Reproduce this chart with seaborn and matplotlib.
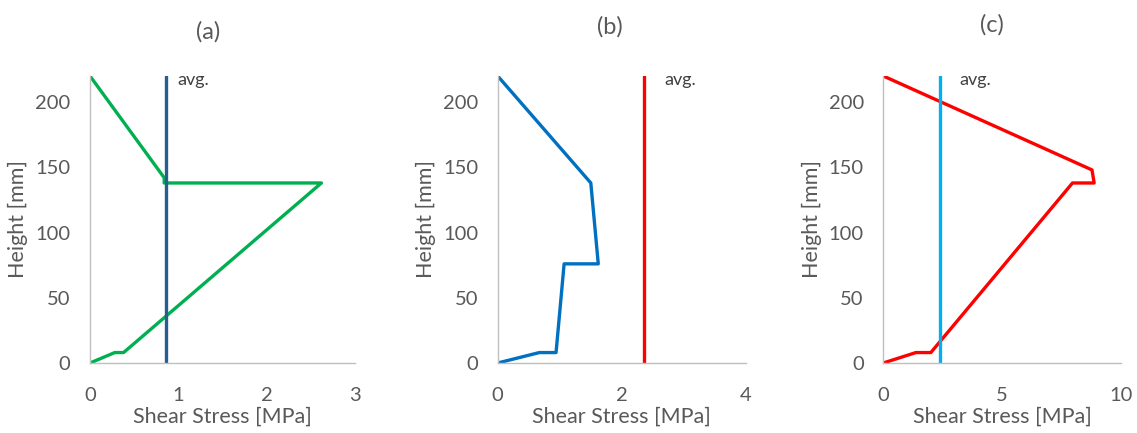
import matplotlib
matplotlib.use("Agg")
import matplotlib.pyplot as plt
import seaborn as sns

# Shear stress profiles over the section height
heights_a = [220, 142, 138, 138, 8, 8, 0]
stress_a = [0.0, 0.84, 0.84, 2.62, 0.38, 0.28, 0.0]
avg_a = 0.86

heights_b = [220, 138, 76, 76, 8, 8, 0]
stress_b = [0.0, 1.50, 1.62, 1.07, 0.94, 0.67, 0.0]
avg_b = 2.35

heights_c = [220, 148, 138, 138, 8, 8, 0]
stress_c = [0.0, 8.78, 8.87, 7.96, 2.0, 1.37, 0.0]
avg_c = 2.38

avg_span = [0, 220]

panel_titles = ["(a)", "(b)", "(c)"]
x_ticks = [[0, 1, 2, 3], [0, 2, 4], [0, 5, 10]]
y_ticks = [0, 50, 100, 150, 200]

sns.set_theme(style="white")
plt.rcParams["font.family"] = ["Lato", "DejaVu Sans"]

TEXT = "#595959"
AXIS = "#BFBFBF"

W, H = 1137, 433
fig = plt.figure(figsize=(W / 100, H / 100), dpi=100)


def px_axes(left, right, top, bottom):
    return fig.add_axes([left / W, 1 - bottom / H, (right - left) / W, (bottom - top) / H])


boxes = [(90, 355, 76, 363), (497.7, 746, 76, 363), (883.3, 1121, 76, 363)]
profiles = [
    (stress_a, heights_a, "#00B050", avg_a, "#255E91", 3),
    (stress_b, heights_b, "#0070C0", avg_b, "#FF0000", 4),
    (stress_c, heights_c, "#FF0000", avg_c, "#00B0F0", 10),
]
title_pos = [(208, 32), (610, 27), (992, 25)]
avg_text_x = [0.985, 2.69, 3.2]

for i, (box, prof) in enumerate(zip(boxes, profiles)):
    xs, ys, col, avg, avg_col, xmax = prof
    ax = px_axes(*box)
    sns.lineplot(x=xs, y=ys, sort=False, estimator=None, color=col,
                 linewidth=2.4, ax=ax)
    sns.lineplot(x=[avg, avg], y=avg_span, sort=False, estimator=None,
                 color=avg_col, linewidth=2.4, ax=ax)
    ax.set_xlim(0, xmax)
    ax.set_ylim(0, 220)
    ax.set_xticks(x_ticks[i])
    ax.set_yticks(y_ticks)
    ax.tick_params(axis="both", length=0, labelsize=14.5, labelcolor=TEXT)
    ax.tick_params(axis="x", pad=17)
    ax.tick_params(axis="y", pad=14)
    for side in ("top", "right"):
        ax.spines[side].set_visible(False)
    for side in ("left", "bottom"):
        ax.spines[side].set_color(AXIS)
        ax.spines[side].set_linewidth(1.0)
    ax.set_xlabel("Shear Stress [MPa]", fontsize=15.5, color=TEXT, labelpad=2)
    ax.set_ylabel("Height [mm]", fontsize=15.5, color=TEXT, labelpad=5)
    ax.text(avg_text_x[i], 217, "avg.", fontsize=13, color="#404040",
            va="center", ha="left")
    tx, ty = title_pos[i]
    fig.text(tx / W, 1 - ty / H, panel_titles[i], fontsize=17, color=TEXT,
             ha="center", va="center")
    ax.set_facecolor("white")

fig.savefig("out.png", dpi=100, facecolor="white")
